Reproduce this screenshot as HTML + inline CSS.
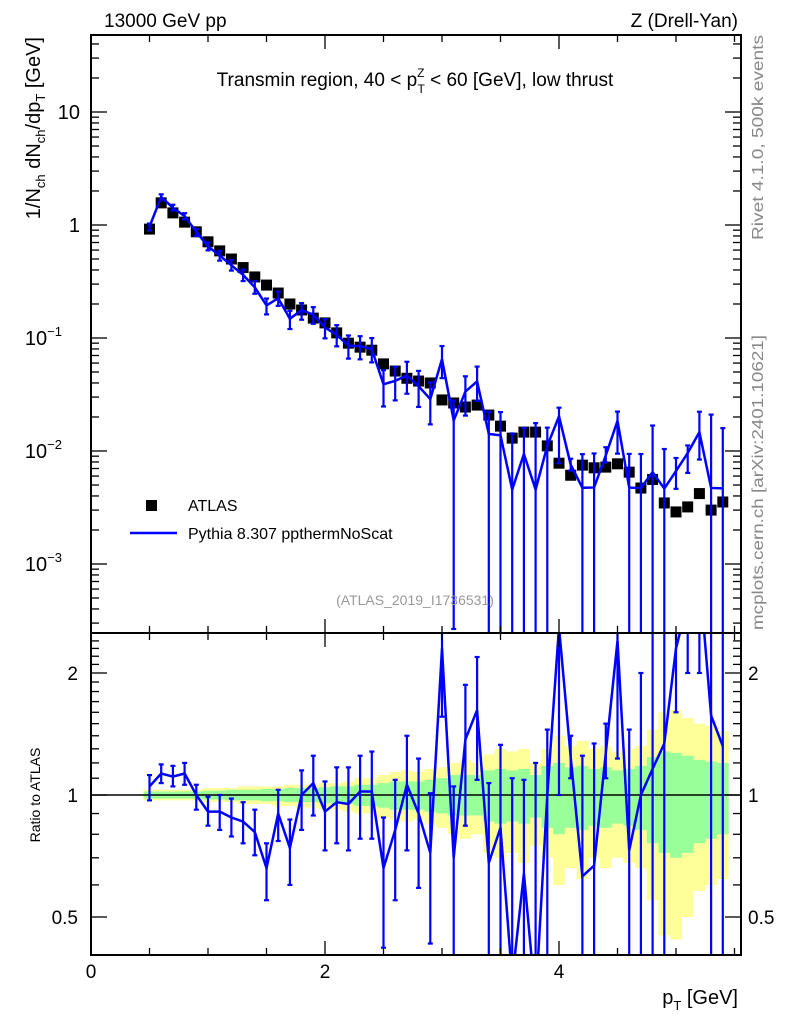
<!DOCTYPE html>
<html><head><meta charset="utf-8">
<style>
html,body{margin:0;padding:0;background:#fff;}
svg{display:block;font-family:"Liberation Sans",Arial,sans-serif;}
</style></head>
<body>
<svg id="chart" width="786" height="1024" viewBox="0 0 786 1024" xmlns="http://www.w3.org/2000/svg">
  <rect width="786" height="1024" fill="#fff"/>
  <g id="bands"></g>
  <g id="marks"></g>
  <g id="axes"></g>
  <text x="104" y="27" font-size="19">13000 GeV pp</text>
  <text x="738" y="27" font-size="19" text-anchor="end">Z (Drell-Yan)</text>
  <text x="415" y="86" font-size="19" text-anchor="middle">Transmin region, 40 &lt; p<tspan dy="-9" font-size="12">Z</tspan><tspan dx="-7" dy="16" font-size="12">T</tspan><tspan dy="-7"> &lt; 60 [GeV], low thrust</tspan></text>
  <text transform="translate(40,37) rotate(-90)" font-size="20" text-anchor="end">1/N<tspan font-size="13" dy="5">ch</tspan><tspan dy="-5"> dN</tspan><tspan font-size="13" dy="5">ch</tspan><tspan dy="-5">/dp</tspan><tspan font-size="13" dy="5">T</tspan><tspan dy="-5"> [GeV]</tspan></text>
  <text transform="translate(40,795) rotate(-90)" font-size="14" text-anchor="middle">Ratio to ATLAS</text>
  <text transform="translate(763,240) rotate(-90)" font-size="16" fill="#888" textLength="205" lengthAdjust="spacingAndGlyphs">Rivet 4.1.0,  500k events</text>
  <text transform="translate(763,630) rotate(-90)" font-size="16" fill="#888" textLength="295" lengthAdjust="spacingAndGlyphs">mcplots.cern.ch [arXiv:2401.10621]</text>
  <text x="415" y="605" font-size="14" fill="#999" text-anchor="middle">(ATLAS_2019_I1736531)</text>
  <g>
    <rect x="146" y="500" width="11" height="11" fill="#000"/>
    <text x="188" y="511" font-size="16">ATLAS</text>
    <line x1="130" y1="533" x2="177" y2="533" stroke="#0000ff" stroke-width="2.5"/>
    <text x="188" y="539" font-size="16">Pythia 8.307 ppthermNoScat</text>
  </g>
  <text x="738" y="1004" font-size="20" text-anchor="end">p<tspan font-size="13" dy="6">T</tspan><tspan dy="-6"> [GeV]</tspan></text>
</svg>
<script>
const pT = [0.5,0.6,0.7,0.8,0.9,1.0,1.1,1.2,1.3,1.4,1.5,1.6,1.7,1.8,1.9,2.0,2.1,2.2,2.3,2.4,2.5,2.6,2.7,2.8,2.9,3.0,3.1,3.2,3.3,3.4,3.5,3.6,3.7,3.8,3.9,4.0,4.1,4.2,4.3,4.4,4.5,4.6,4.7,4.8,4.9,5.0,5.1,5.2,5.3,5.4];
const atlas = [0.92,1.57,1.28,1.06,0.87,0.71,0.59,0.50,0.42,0.347,0.294,0.250,0.200,0.177,0.150,0.136,0.111,0.090,0.083,0.078,0.059,0.051,0.044,0.0416,0.040,0.0283,0.0266,0.0245,0.0255,0.0208,0.0166,0.0130,0.0147,0.0147,0.0111,0.0078,0.0061,0.0075,0.0071,0.0072,0.0077,0.0065,0.0047,0.0056,0.00347,0.00289,0.0032,0.0042,0.0030,0.00354];
const ratio = [1.05,1.13,1.11,1.13,1.0,0.91,0.91,0.88,0.86,0.81,0.66,0.90,0.74,1.0,1.07,0.91,0.96,0.95,1.02,1.02,0.66,0.82,1.06,0.90,0.72,2.3,0.70,1.37,1.62,0.68,0.83,0.35,0.64,0.31,1.0,2.6,1.24,0.63,0.67,1.27,2.4,0.73,1.0,1.16,1.34,2.3,3.0,3.5,1.57,1.32];
const ratioHi = [1.12,1.19,1.18,1.2,1.06,0.99,1.0,0.98,0.96,0.92,0.76,1.03,0.87,1.15,1.25,1.08,1.17,1.17,1.25,1.28,0.88,1.09,1.40,1.23,1.01,3.0,1.05,1.87,2.19,1.07,1.33,1.1,1.09,1.2,1.45,3.1,1.4,1.25,1.34,1.5,2.9,1.45,2.0,3.0,3.0,3.0,3.5,5.3,7.0,4.5];
const ratioLo = [0.97,1.07,1.05,1.06,0.92,0.84,0.82,0.79,0.76,0.71,0.55,0.77,0.60,0.82,0.89,0.73,0.76,0.73,0.78,0.78,0.42,0.55,0.73,0.59,0.43,1.56,0.01,0.84,1.09,0.01,0.01,0.01,0.01,0.01,0.01,1.0,1.1,0.01,0.01,1.1,1.23,0.01,0.01,0.01,0.01,1.6,2.0,2.0,0.01,0.01];
const yelHi = [1.03,1.03,1.03,1.03,1.03,1.04,1.04,1.04,1.05,1.05,1.05,1.05,1.06,1.06,1.06,1.07,1.07,1.08,1.1,1.1,1.12,1.14,1.15,1.14,1.16,1.17,1.2,1.22,1.2,1.26,1.3,1.28,1.3,1.2,1.3,1.4,1.32,1.36,1.3,1.32,1.28,1.3,1.32,1.45,1.6,1.62,1.55,1.5,1.48,1.44];
const yelLo = [0.97,0.97,0.97,0.97,0.97,0.96,0.96,0.96,0.95,0.95,0.95,0.94,0.94,0.93,0.93,0.92,0.92,0.91,0.9,0.9,0.88,0.87,0.86,0.87,0.85,0.83,0.8,0.78,0.8,0.72,0.7,0.72,0.68,0.75,0.7,0.6,0.66,0.62,0.7,0.66,0.7,0.68,0.66,0.55,0.45,0.44,0.5,0.58,0.6,0.62];
const grnHi = [1.02,1.02,1.02,1.02,1.02,1.025,1.025,1.03,1.03,1.03,1.035,1.035,1.04,1.04,1.04,1.045,1.05,1.05,1.06,1.06,1.07,1.08,1.08,1.08,1.09,1.1,1.12,1.12,1.12,1.15,1.16,1.15,1.16,1.12,1.18,1.2,1.17,1.18,1.16,1.17,1.15,1.16,1.18,1.24,1.28,1.27,1.25,1.22,1.21,1.2];
const grnLo = [0.98,0.98,0.98,0.98,0.98,0.975,0.975,0.97,0.97,0.97,0.965,0.965,0.96,0.96,0.96,0.955,0.95,0.95,0.94,0.94,0.93,0.92,0.92,0.92,0.91,0.9,0.89,0.89,0.89,0.86,0.85,0.86,0.85,0.88,0.83,0.8,0.83,0.82,0.84,0.83,0.85,0.84,0.82,0.76,0.72,0.7,0.72,0.76,0.78,0.8];
const xTickLabels = ["0","2","4"];
const ratioTickLabels = ["0.5","1","2"];

const NS="http://www.w3.org/2000/svg";
const L=91,R=741,T=35,MB=633,RB=955;
const X=v=>L+v*117;
const Ym=v=>225-113*Math.log10(v);
const Yr=v=>795-122*Math.log2(v);
function mk(tag,attrs,parent){const e=document.createElementNS(NS,tag);for(const k in attrs)e.setAttribute(k,attrs[k]);parent.appendChild(e);return e;}
const bands=document.getElementById('bands'),marks=document.getElementById('marks'),axes=document.getElementById('axes');
const clamp=(y,a,b)=>Math.max(a,Math.min(b,y));

function band(hi,lo,color,name){
  let top="",bot="";
  pT.forEach((p,i)=>{const x0=X(p-0.05),x1=X(p+0.05);
    top+=(i?"L":"M")+x0+","+Yr(hi[i])+"L"+x1+","+Yr(hi[i]);});
  for(let i=pT.length-1;i>=0;i--){const x0=X(pT[i]-0.05),x1=X(pT[i]+0.05);bot+="L"+x1+","+Yr(lo[i])+"L"+x0+","+Yr(lo[i]);}
  const e=mk('path',{d:top+bot+"Z",fill:color},bands);
  
  
}
band(yelHi,yelLo,"#ffff99","ratio-total-band");
band(grnHi,grnLo,"#99ff99","ratio-stat-band");
const ref=mk('line',{x1:L,x2:R,y1:Yr(1),y2:Yr(1),stroke:"#000","stroke-width":1.5},marks);



const defs=mk('defs',{},document.getElementById('chart'));
const c1=mk('clipPath',{id:'cm'},defs);mk('rect',{x:L,y:T,width:R-L,height:MB-T},c1);
const c2=mk('clipPath',{id:'cr'},defs);mk('rect',{x:L,y:MB,width:R-L,height:RB-MB},c2);
const gm=mk('g',{'clip-path':'url(#cm)'},marks);
const gr=mk('g',{'clip-path':'url(#cr)'},marks);

pT.forEach((p,i)=>{const s=mk('rect',{x:X(p)-5.5,y:Ym(atlas[i])-5.5,width:11,height:11,fill:"#000"},gm);
  
  });

const mc=pT.map((p,i)=>atlas[i]*ratio[i]);
function errbar(g,x,y1,y2,name){
  const e=mk('g',{stroke:"#0000ff","stroke-width":2.2},g);
  
  
  mk('line',{x1:x,x2:x,y1:y1,y2:y2},e);
  mk('line',{x1:x-2.5,x2:x+2.5,y1:y1,y2:y1},e);
  mk('line',{x1:x-2.5,x2:x+2.5,y1:y2,y2:y2},e);
}
pT.forEach((p,i)=>{
  errbar(gm,X(p),clamp(Ym(atlas[i]*ratioHi[i]),T-10,MB+10),clamp(Ym(atlas[i]*ratioLo[i]),T-10,MB+10),'pythia-error-bar');
  errbar(gr,X(p),clamp(Yr(ratioHi[i]),MB-10,RB+10),clamp(Yr(ratioLo[i]),MB-10,RB+10),'ratio-error-bar');
});
const lm=mk('polyline',{points:pT.map((p,i)=>X(p)+","+Ym(mc[i])).join(" "),fill:"none",stroke:"#0000ff","stroke-width":2.5},gm);


const lr=mk('polyline',{points:pT.map((p,i)=>X(p)+","+Yr(ratio[i])).join(" "),fill:"none",stroke:"#0000ff","stroke-width":2.5},gr);



[[T,MB],[MB,RB]].forEach(([a,b])=>{mk('rect',{x:L,y:a,width:R-L,height:b-a,fill:"none",stroke:"#000","stroke-width":2},axes);});
for(let v=0;v<=5.5;v+=0.5){const maj=Math.abs(v%2)<1e-6,len=maj?14:7;
  [[T,1],[MB,-1],[MB,1],[RB,-1]].forEach(([y,d])=>mk('line',{x1:X(v),x2:X(v),y1:y,y2:y+d*len,stroke:"#000","stroke-width":1.3},axes));}
xTickLabels.forEach(t=>{const e=mk('text',{x:X(+t),y:978,"font-size":19,"text-anchor":"middle"},axes);e.textContent=t;
  
  });
for(let d=-4;d<=1;d++){for(let m=1;m<10;m++){const v=m*Math.pow(10,d),y=Ym(v);if(y<T||y>MB)continue;const len=m==1?16:8;
  mk('line',{x1:L,x2:L+len,y1:y,y2:y,stroke:"#000","stroke-width":1.3},axes);
  mk('line',{x1:R,x2:R-len,y1:y,y2:y,stroke:"#000","stroke-width":1.3},axes);}}
const mainTicks=[[10,"10",""],[1,"1",""],[0.1,"10","−1"],[0.01,"10","−2"],[0.001,"10","−3"]];
mainTicks.forEach(([v,b,e])=>{const t=mk('text',{x:e?62:80,y:Ym(v)+7,"font-size":20,"text-anchor":"end"},axes);
  
  
  t.textContent=b;if(e){const s=mk('tspan',{dy:-9,"font-size":13},t);s.textContent=e;}});
for(let v=0.4;v<=2.5;v+=0.1){const y=Yr(v);if(y<MB||y>RB)continue;const maj=[0.5,1,2].some(q=>Math.abs(q-v)<1e-6),len=maj?16:8;
  mk('line',{x1:L,x2:L+len,y1:y,y2:y,stroke:"#000","stroke-width":1.3},axes);
  mk('line',{x1:R,x2:R-len,y1:y,y2:y,stroke:"#000","stroke-width":1.3},axes);}
ratioTickLabels.forEach(t=>{[[78,"end"],[748,"start"]].forEach(([x,a])=>{const e=mk('text',{x:x,y:Yr(+t)+7,"font-size":19,"text-anchor":a},axes);e.textContent=t;
  
  });});
</script>
</body></html>
